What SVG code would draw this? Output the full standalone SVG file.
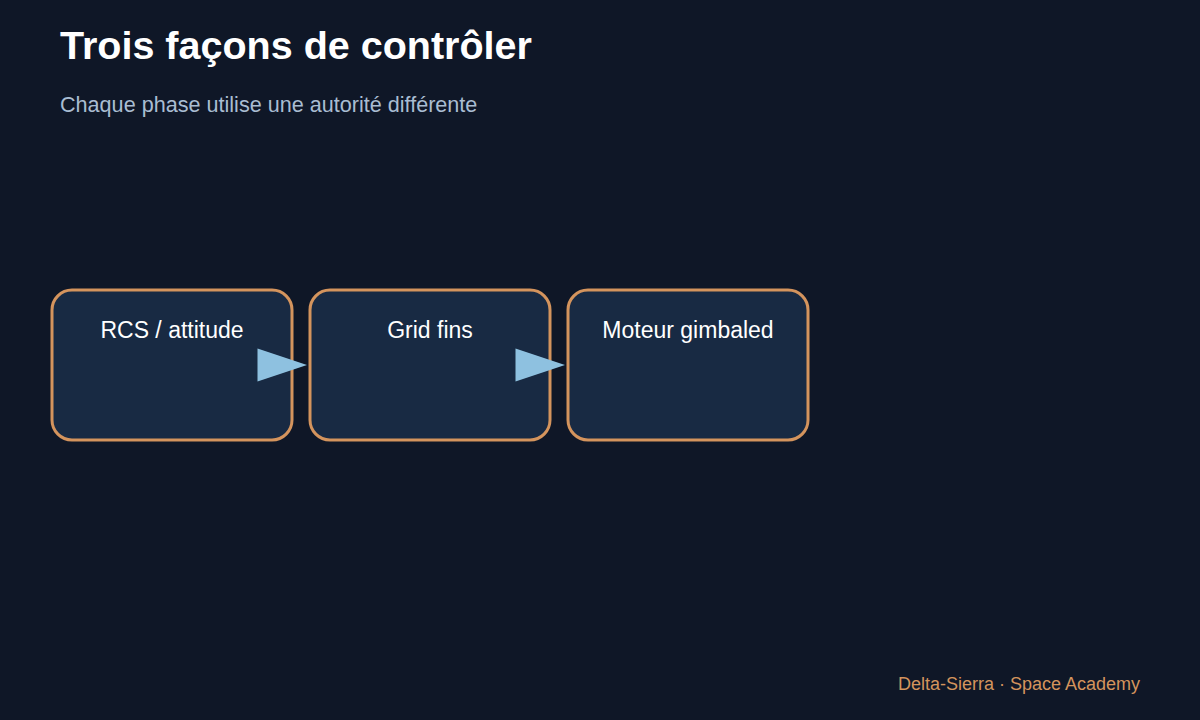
<svg xmlns="http://www.w3.org/2000/svg" width="1200" height="720" viewBox="0 0 1200 720">
<style>
.bg{fill:#0f1727}
.title{font-family:"Liberation Sans",Arial,sans-serif;font-weight:bold;font-size:39.5px;fill:#ffffff}
.sub{font-family:"Liberation Sans",Arial,sans-serif;font-size:21.6px;fill:#a9bdd2}
.box{fill:#182a43;stroke:#d4945d;stroke-width:3}
.lbl{font-family:"Liberation Sans",Arial,sans-serif;font-size:23px;fill:#ffffff;text-anchor:middle}
.arrow{fill:#8ec1e0}
.foot{font-family:"Liberation Sans",Arial,sans-serif;font-size:18px;fill:#d4945d;text-anchor:end}
</style>
<rect class="bg" x="0" y="0" width="1200" height="720"/>
<text class="title" x="60" y="59">Trois façons de contrôler</text>
<text class="sub" x="60" y="112">Chaque phase utilise une autorité différente</text>
<g id="node-rcs">
<rect class="box" x="52" y="290" width="240" height="150" rx="20"/>
<text class="lbl" x="172" y="338">RCS / attitude</text>
</g>
<g id="node-gridfins">
<rect class="box" x="310" y="290" width="240" height="150" rx="20"/>
<text class="lbl" x="430" y="338">Grid fins</text>
</g>
<g id="node-moteur">
<rect class="box" x="568" y="290" width="240" height="150" rx="20"/>
<text class="lbl" x="688" y="338">Moteur gimbaled</text>
</g>
<g id="connectors">
<polygon class="arrow" points="257.5,348.5 307,365 257.5,381.5"/>
<polygon class="arrow" points="515.5,348.5 565,365 515.5,381.5"/>
</g>
<text class="foot" x="1140" y="690">Delta-Sierra · Space Academy</text>
</svg>
